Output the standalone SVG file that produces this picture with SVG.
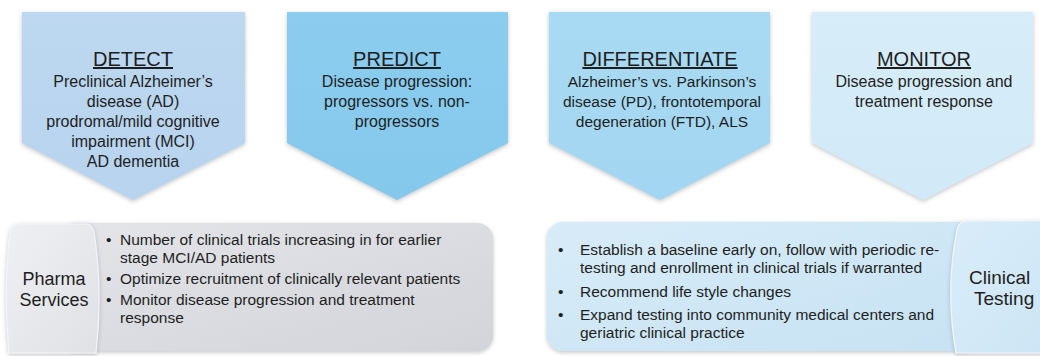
<svg xmlns="http://www.w3.org/2000/svg" width="1040" height="356" viewBox="0 0 1040 356">
<defs>
<filter id="sh" x="-10%" y="-10%" width="120%" height="125%">
<feDropShadow dx="0" dy="1.5" stdDeviation="2.2" flood-color="#7a7f86" flood-opacity="0.45"/>
</filter>
<linearGradient id="g1" x1="0" y1="0" x2="0" y2="1"><stop offset="0" stop-color="#bdd8f0"/><stop offset="1" stop-color="#b7d3ee"/></linearGradient>
<linearGradient id="g2" x1="0" y1="0" x2="0" y2="1"><stop offset="0" stop-color="#8ccdef"/><stop offset="1" stop-color="#84c8ec"/></linearGradient>
<linearGradient id="g3" x1="0" y1="0" x2="0" y2="1"><stop offset="0" stop-color="#a9daf3"/><stop offset="1" stop-color="#a3d6f2"/></linearGradient>
<linearGradient id="g4" x1="0" y1="0" x2="0" y2="1"><stop offset="0" stop-color="#d7edf9"/><stop offset="1" stop-color="#d1e9f8"/></linearGradient>
<linearGradient id="gg" x1="0" y1="0" x2="1" y2="1"><stop offset="0" stop-color="#e3e5e9"/><stop offset="1" stop-color="#d2d4d9"/></linearGradient>
<linearGradient id="gt" x1="0" y1="0" x2="1" y2="1"><stop offset="0" stop-color="#eef0f3"/><stop offset="1" stop-color="#dfe1e5"/></linearGradient>
<linearGradient id="gb" x1="0" y1="0" x2="1" y2="1"><stop offset="0" stop-color="#d8ecf8"/><stop offset="1" stop-color="#c7e2f3"/></linearGradient>
<linearGradient id="gc" x1="0" y1="0" x2="1" y2="1"><stop offset="0" stop-color="#d9edf9"/><stop offset="1" stop-color="#cde5f5"/></linearGradient>
</defs>
<style>
text{font-family:"Liberation Sans",Arial,sans-serif;fill:#1e1e1e;}
.t{font-size:20px;text-anchor:middle;text-decoration:underline;}
.b{font-size:16px;text-anchor:middle;}
.l{font-size:15.5px;}
.tab{font-size:18px;text-anchor:middle;}
.tab2{font-size:19px;}
.sh{filter:url(#sh);}
.edge{stroke:#f3f6f9;stroke-width:1.2;}
</style>

<g id="detect">
<polygon class="sh" points="22,12 245,12 245,143 133,200 22,143" fill="url(#g1)"/>
<text class="t" x="133" y="66">DETECT</text>
<text class="b" x="133" y="87">Preclinical Alzheimer’s</text>
<text class="b" x="133" y="107">disease (AD)</text>
<text class="b" x="133" y="127">prodromal/mild cognitive</text>
<text class="b" x="133" y="147">impairment (MCI)</text>
<text class="b" x="133" y="167">AD dementia</text>
</g>

<g id="predict">
<polygon class="sh" points="287,12 508,12 508,143 397,200 287,143" fill="url(#g2)"/>
<text class="t" x="397" y="66">PREDICT</text>
<text class="b" x="397" y="87">Disease progression:</text>
<text class="b" x="397" y="107">progressors vs. non-</text>
<text class="b" x="397" y="127">progressors</text>
</g>

<g id="differentiate">
<polygon class="sh" points="549,12 770,12 770,143 660,200 549,143" fill="url(#g3)"/>
<text class="t" x="660" y="66">DIFFERENTIATE</text>
<text class="b" x="662" y="87" style="font-size:15.5px">Alzheimer’s vs. Parkinson’s</text>
<text class="b" x="662" y="107" style="font-size:15.5px">disease (PD), frontotemporal</text>
<text class="b" x="662" y="127" style="font-size:15.5px">degeneration (FTD), ALS</text>
</g>

<g id="monitor">
<polygon class="sh" points="812,12 1033,12 1033,143 923,200 812,143" fill="url(#g4)"/>
<text class="t" x="924" y="66">MONITOR</text>
<text class="b" x="924" y="87">Disease progression and</text>
<text class="b" x="924" y="107">treatment response</text>
</g>

<g id="pharma-box">
<rect class="sh" x="60" y="223" width="433" height="128" rx="16" fill="url(#gg)"/>
<text class="l" x="106" y="245">•</text>
<text class="l" x="120" y="245">Number of clinical trials increasing in for earlier</text>
<text class="l" x="120" y="263">stage MCI/AD patients</text>
<text class="l" x="106" y="284">•</text>
<text class="l" x="120" y="284">Optimize recruitment of clinically relevant patients</text>
<text class="l" x="106" y="305">•</text>
<text class="l" x="120" y="305">Monitor disease progression and treatment</text>
<text class="l" x="120" y="323">response</text>
</g>

<g id="pharma-tab">
<path class="sh edge" d="M19,224 L86,224 Q92,224 94,232 Q103,290 96,353 L9,353 Q3,290 10,233 Q12,224 19,224 Z" fill="url(#gt)"/>
<text class="tab" x="54" y="285">Pharma</text>
<text class="tab" x="54" y="306">Services</text>
</g>

<g id="clinical-box">
<rect class="sh" x="547" y="222" width="430" height="129" rx="16" fill="url(#gb)"/>
<text class="l" x="558" y="255">•</text>
<text class="l" x="580" y="255">Establish a baseline early on, follow with periodic re-</text>
<text class="l" x="580" y="273">testing and enrollment in clinical trials if warranted</text>
<text class="l" x="558" y="297">•</text>
<text class="l" x="580" y="297">Recommend life style changes</text>
<text class="l" x="558" y="320">•</text>
<text class="l" x="580" y="320">Expand testing into community medical centers and</text>
<text class="l" x="580" y="338">geriatric clinical practice</text>
</g>

<g id="clinical-tab">
<path class="sh edge" d="M966,221 L1046,221 L1046,353 L956,353 Q945,290 957,230 Q959,221 966,221 Z" fill="url(#gc)"/>
<text class="tab2" x="969" y="284">Clinical</text>
<text class="tab2" x="974" y="305">Testing</text>
</g>

<g id="connectors"></g>
</svg>
